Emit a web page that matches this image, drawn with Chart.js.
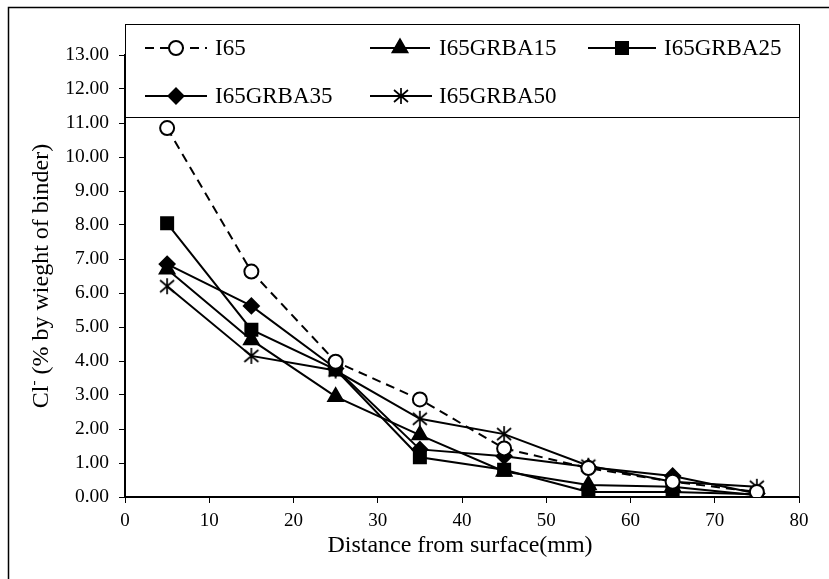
<!DOCTYPE html>
<html>
<head>
<meta charset="utf-8">
<script src="https://cdn.jsdelivr.net/npm/chart.js"></script>
<style>
  html, body { margin: 0; padding: 0; background: #fff; }
</style>
</head>
<body>
<canvas id="chart" width="829" height="579"></canvas>
<script>
// distance from surface (mm) and chloride content (% by weight of binder)
const distances = [5, 15, 25, 35, 45, 55, 65, 75];
const seriesNames = ['I65', 'I65GRBA15', 'I65GRBA25', 'I65GRBA35', 'I65GRBA50'];
const i65       = [10.85, 6.63, 3.98, 2.87, 1.43, 0.85, 0.45, 0.15];
const i65grba15 = [6.70, 4.62, 2.95, 1.82, 0.75, 0.35, 0.30, 0.05];
const i65grba25 = [8.05, 4.92, 3.75, 1.17, 0.80, 0.15, 0.15, 0.08];
const i65grba35 = [6.85, 5.62, 3.78, 1.40, 1.20, 0.88, 0.62, 0.10];
const i65grba50 = [6.20, 4.15, 3.72, 2.30, 1.85, 0.92, 0.45, 0.30];
const xTickStep = 10;
const yTickStep = 1;

const FONT = "'Liberation Serif', 'Times New Roman', serif";

function makeStar() {
    const c = document.createElement('canvas');
    c.width = 18;
    c.height = 18;
    const g = c.getContext('2d');
    g.strokeStyle = '#000';
    g.lineWidth = 1.7;
    g.beginPath();
    g.moveTo(9, 1); g.lineTo(9, 17);
    g.moveTo(2, 3); g.lineTo(16, 15);
    g.moveTo(16, 3); g.lineTo(2, 15);
    g.stroke();
    return c;
}
const starImg = makeStar();

function toPoints(values) {
    return distances.map((d, i) => ({ x: d, y: values[i] }));
}

const styles = [
    { pointStyle: 'circle', radius: 7, fill: '#fff', dash: [9, 6] },
    { pointStyle: 'triangle', radius: 8.5, fill: '#000', dash: [] },
    { pointStyle: 'rect', radius: 8.5, fill: '#000', dash: [] },
    { pointStyle: 'rectRot', radius: 7.5, fill: '#000', dash: [] },
    { pointStyle: starImg, radius: 8, fill: '#000', dash: [] }
];
const allValues = [i65, i65grba15, i65grba25, i65grba35, i65grba50];

const datasets = seriesNames.map((name, i) => ({
    label: name,
    data: toPoints(allValues[i]),
    borderColor: '#000',
    borderWidth: 2,
    borderDash: styles[i].dash,
    backgroundColor: styles[i].fill,
    pointStyle: styles[i].pointStyle,
    pointRadius: styles[i].radius,
    pointBorderWidth: 2,
    pointBorderColor: '#000',
    pointBackgroundColor: styles[i].fill,
    tension: 0,
    fill: false
}));

// legend entries: [sample start, sample end, text x, row y]
const legendSlots = [
    [145, 207, 215, 48],
    [370, 430, 439, 48],
    [588, 656, 664, 48],
    [145, 207, 215, 96],
    [370, 432, 439, 96]
];

const decorPlugin = {
    id: 'decor',
    afterDraw(chart) {
        const ctx = chart.ctx;
        const area = chart.chartArea;
        ctx.save();

        // outer frame
        ctx.strokeStyle = '#000';
        ctx.lineWidth = 1.5;
        ctx.strokeRect(8.5, 7.5, 840, 600);

        // plot area right border
        ctx.lineWidth = 1;
        ctx.strokeStyle = '#333';
        ctx.beginPath();
        ctx.moveTo(799.5, area.top);
        ctx.lineTo(799.5, area.bottom);
        ctx.stroke();

        // legend box
        ctx.fillStyle = '#fff';
        ctx.fillRect(125, 24, 674, 93);
        ctx.strokeStyle = '#000';
        ctx.lineWidth = 1;
        ctx.strokeRect(125.5, 24.5, 674, 93);

        seriesNames.forEach((name, i) => {
            const [x0, x1, tx, y] = legendSlots[i];
            const st = styles[i];
            ctx.strokeStyle = '#000';
            ctx.lineWidth = 2;
            ctx.setLineDash(st.dash);
            ctx.beginPath();
            ctx.moveTo(x0, y);
            ctx.lineTo(x1, y);
            ctx.stroke();
            ctx.setLineDash([]);
            ctx.fillStyle = st.fill;
            ctx.lineWidth = 2;
            Chart.helpers.drawPoint(ctx, {
                pointStyle: st.pointStyle,
                rotation: 0,
                radius: st.radius,
                borderWidth: 2
            }, (x0 + x1) / 2, y);
            ctx.fillStyle = '#000';
            ctx.font = '23px ' + FONT;
            ctx.textAlign = 'left';
            ctx.textBaseline = 'middle';
            ctx.fillText(name, tx, y + 1);
        });

        // x axis title
        ctx.fillStyle = '#000';
        ctx.font = '24px ' + FONT;
        ctx.textAlign = 'center';
        ctx.textBaseline = 'middle';
        ctx.fillText('Distance from surface(mm)', 460, 546);

        // y axis title with superscript minus
        ctx.translate(40, 276);
        ctx.rotate(-Math.PI / 2);
        const big = '24px ' + FONT;
        const small = '15px ' + FONT;
        const a = 'Cl';
        const b = '-';
        const c = ' (% by wieght of binder)';
        ctx.font = big;
        const wa = ctx.measureText(a).width;
        const wc = ctx.measureText(c).width;
        ctx.font = small;
        const wb = ctx.measureText(b).width;
        let x = -(wa + wb + wc) / 2;
        ctx.textAlign = 'left';
        ctx.textBaseline = 'alphabetic';
        ctx.font = big;
        ctx.fillText(a, x, 8);
        x += wa;
        ctx.font = small;
        ctx.fillText(b, x, -2);
        x += wb;
        ctx.font = big;
        ctx.fillText(c, x, 8);
        ctx.restore();
    }
};

new Chart(document.getElementById('chart'), {
    type: 'line',
    data: { datasets },
    options: {
        responsive: false,
        animation: false,
        devicePixelRatio: 1,
        layout: { padding: { top: 55, right: 30, left: 0, bottom: 0 } },
        plugins: {
            legend: { display: false },
            tooltip: { enabled: false }
        },
        scales: {
            x: {
                type: 'linear',
                min: 0,
                max: 80,
                ticks: {
                    stepSize: xTickStep,
                    color: '#000',
                    padding: 7,
                    maxRotation: 0,
                    font: { family: FONT, size: 19 }
                },
                grid: { drawOnChartArea: false, drawTicks: true, tickLength: 6, color: '#000', lineWidth: 1 },
                border: { display: true, color: '#000', width: 2 },
                afterFit(scale) { scale.height = 82; }
            },
            y: {
                min: 0,
                max: 13,
                ticks: {
                    stepSize: yTickStep,
                    color: '#000',
                    padding: 10,
                    font: { family: FONT, size: 19.5 },
                    callback: v => Number(v).toFixed(2)
                },
                grid: { drawOnChartArea: false, drawTicks: true, tickLength: 6, color: '#000', lineWidth: 1 },
                border: { display: true, color: '#000', width: 2 },
                afterFit(scale) { scale.width = 125; }
            }
        }
    },
    plugins: [decorPlugin]
});
</script>
</body>
</html>
